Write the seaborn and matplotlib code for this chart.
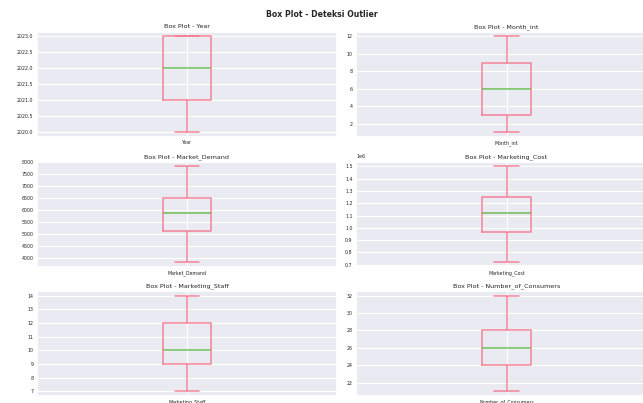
import matplotlib
matplotlib.use("Agg")
import matplotlib.pyplot as plt
from matplotlib.ticker import MultipleLocator, ScalarFormatter
import numpy as np
import pandas as pd
import seaborn as sns

# Five-number summaries (min, Q1, median, Q3, max) of each numeric column
year = [2020, 2021, 2022, 2023, 2023]
month_int = [1, 3, 6, 9, 12]
market_demand = [3820, 5140, 5855, 6500, 7830]
marketing_cost = [722000, 963000, 1120000, 1253000, 1500000]
marketing_staff = [7, 9, 10, 12, 14]
number_of_consumers = [21, 24, 26, 28, 32]

columns = ["Year", "Month_int", "Market_Demand", "Marketing_Cost",
           "Marketing_Staff", "Number_of_Consumers"]
values = [year, month_int, market_demand, marketing_cost,
          marketing_staff, number_of_consumers]
tick_steps = [0.5, 2, 500, 100000, 1, 2]

sns.set_theme(style="darkgrid")
pal = sns.color_palette("husl", 6)
box_color = pal[0]
median_color = pal[2]

W, H = 643, 403
fig = plt.figure(figsize=(W / 100, H / 100), dpi=100)

col_x = [(37, 337), (356, 657)]
row_y = [(31.7, 137), (161.7, 266.7), (291, 396)]

for i, (name, vals, step) in enumerate(zip(columns, values, tick_steps)):
    r, c = divmod(i, 2)
    x0, x1 = col_x[c]
    y0, y1 = row_y[r]
    ax = fig.add_axes([x0 / W, 1 - y1 / H, (x1 - x0) / W, (y1 - y0) / H])
    df = pd.DataFrame({name: vals})
    line = dict(color=box_color, linewidth=1.1, alpha=0.85)
    sns.boxplot(data=df, ax=ax, fill=False, width=0.16, whis=1.5,
                boxprops=line, whiskerprops=line, capprops=line,
                medianprops=dict(color=median_color, linewidth=1.1, alpha=0.8),
                flierprops=dict(markeredgecolor=box_color))
    ax.set_title(f"Box Plot - {name}", fontsize=4.6, pad=2.5)
    ax.yaxis.set_major_locator(MultipleLocator(step))
    fmt = ScalarFormatter(useOffset=False)
    ax.yaxis.set_major_formatter(fmt)
    ax.tick_params(axis="both", labelsize=3.4, pad=2.5, length=0)
    ax.yaxis.get_offset_text().set_fontsize(3.4)
    ax.grid(True, color="white", linewidth=0.8)
    ax.set_xlim(-0.5, 0.5)
    ax.set_xlabel("")
    ax.set_ylabel("")

fig.text(0.5, 1 - 14.5 / H, "Box Plot - Deteksi Outlier", ha="center",
         va="center", fontsize=5.6, fontweight="bold")

fig.savefig("out.png", dpi=100)
